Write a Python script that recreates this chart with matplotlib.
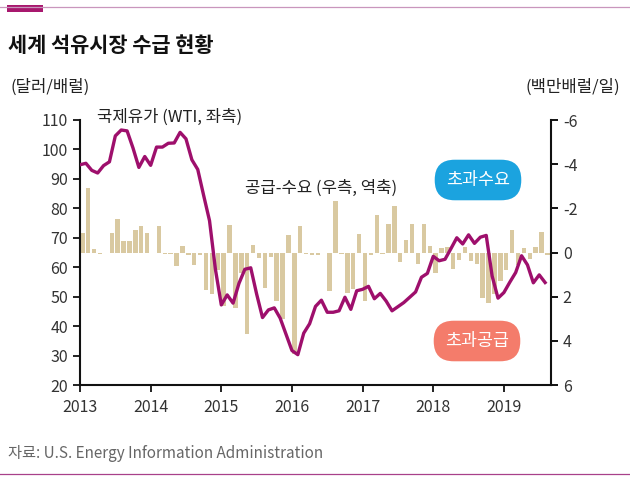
import numpy as np
import matplotlib.pyplot as plt
from matplotlib.lines import Line2D
from matplotlib.patches import Rectangle

plt.rcParams['font.family'] = ['Noto Sans CJK KR', 'DejaVu Sans']
plt.rcParams['axes.unicode_minus'] = False

# WTI monthly average, Jan 2013 - Aug 2019 (USD/bbl)
wti = [94.8, 95.3, 92.9, 92.0, 94.5, 95.8, 104.6, 106.6, 106.3, 100.5, 93.9, 97.6,
       94.6, 100.8, 100.8, 102.1, 102.2, 105.8, 103.6, 96.5, 93.2, 84.4, 75.8, 59.3,
       47.2, 50.6, 47.8, 54.5, 59.3, 59.8, 50.9, 42.9, 45.5, 46.2, 42.7, 37.2,
       31.7, 30.3, 37.6, 40.8, 46.7, 48.8, 44.7, 44.7, 45.2, 49.8, 45.7, 52.0,
       52.5, 53.5, 49.3, 51.1, 48.5, 45.2, 46.6, 48.0, 49.8, 51.6, 56.6, 57.9,
       63.7, 62.2, 62.7, 66.3, 70.0, 67.9, 71.0, 68.1, 70.2, 70.8, 57.0, 49.5,
       51.4, 54.9, 58.2, 63.9, 60.8, 54.7, 57.4, 54.8]

# supply - demand (mb/d), reversed right axis
balance = [-0.9, -2.9, -0.15, 0.05, 0.0, -0.9, -1.5, -0.5, -0.5, -1.0, -1.2, -0.9,
           0.0, -1.2, 0.05, 0.05, 0.6, -0.3, 0.1, 0.55, 0.1, 1.7, 1.9, 0.8,
           2.4, -1.25, 2.5, 0.95, 3.7, -0.35, 0.25, 1.6, 0.2, 2.2, 3.0, -0.8,
           4.6, -1.2, 0.05, 0.1, 0.1, 0.0, 1.75, -2.35, 0.05, 1.85, 1.65, -0.85,
           2.2, 0.1, -1.7, 0.05, -1.3, -2.1, 0.45, -0.55, -1.3, 0.5, -1.3, -0.3,
           0.95, -0.2, -0.25, 0.75, 0.35, -0.25, 0.4, 0.5, 2.05, 2.3, 1.9, 1.3,
           0.8, -1.0, 0.55, -0.2, 0.3, -0.25, -0.95, 0.1]

years = [2013, 2014, 2015, 2016, 2017, 2018, 2019]
left_ticks = [20, 30, 40, 50, 60, 70, 80, 90, 100, 110]
right_ticks = [-6, -4, -2, 0, 2, 4, 6]

W, H = 630, 491
fig = plt.figure(figsize=(W / 100, H / 100), dpi=100)
ax = fig.add_axes([80 / W, 1 - 385 / H, (551 - 80) / W, (385 - 120) / H])
ax2 = ax.twinx()

x_line = 2013 + np.arange(len(wti)) / 12
x_bar = 2013 + (np.arange(len(balance)) + 0.4) / 12

ax2.bar(x_bar, balance, width=0.75 / 12, color='#d9c9a1', zorder=1)
ax.plot(x_line, wti, color='#9e0f6c', lw=2.4, zorder=3, solid_joinstyle='round')

ax.set_zorder(ax2.get_zorder() + 1)
ax.patch.set_visible(False)

ax.set_xlim(2013, 2013 + 80 / 12)
ax.set_ylim(20, 110)
ax2.set_ylim(6, -6)
ax.set_yticks(left_ticks)
ax2.set_yticks(right_ticks)
ax.set_xticks(years)
ax.set_xticklabels([str(y) for y in years])

for a in (ax, ax2):
    a.spines['top'].set_visible(False)
    for s in ('left', 'right', 'bottom'):
        a.spines[s].set_linewidth(1.5)
        a.spines[s].set_color('#111111')
ax.spines['right'].set_visible(False)
ax2.spines['left'].set_visible(False)
ax2.spines['bottom'].set_visible(False)

ax.tick_params(axis='both', length=5, width=1.3, labelsize=11.5, colors='#111111',
               labelcolor='#333333')
ax.tick_params(axis='x', pad=5)
ax2.tick_params(axis='y', length=5, width=1.3, labelsize=11.5, labelcolor='#333333')

# annotations inside the plot
fig.text(97 / W, 1 - 117 / H, '국제유가 (WTI, 좌측)', fontsize=12, color='#222222', va='center')
fig.text(245 / W, 1 - 188 / H, '공급-수요 (우측, 역축)', fontsize=12, color='#222222', va='center')

badge = dict(boxstyle='round,pad=0.65,rounding_size=1.15', ec='none')
fig.text(478 / W, 1 - 180 / H, '초과수요', fontsize=12.5, color='white', ha='center', va='center',
         bbox=dict(badge, fc='#1ba3df'))
fig.text(477 / W, 1 - 341 / H, '초과공급', fontsize=12.5, color='white', ha='center', va='center',
         bbox=dict(badge, fc='#f47c6b'))

# titles and units
fig.text(8 / W, 1 - 45 / H, '세계 석유시장 수급 현황', fontsize=15, fontweight='bold',
         color='#111111', va='center')
fig.text(10 / W, 1 - 87 / H, '(달러/배럴)', fontsize=12, color='#222222', va='center')
fig.text(620 / W, 1 - 87 / H, '(백만배럴/일)', fontsize=12, color='#222222', va='center', ha='right')
fig.text(8 / W, 1 - 453 / H, '자료: U.S. Energy Information Administration', fontsize=11,
         color='#666666', va='center')

# decorative rules
fig.add_artist(Line2D([0, 1], [1 - 7 / H, 1 - 7 / H], color='#c996bd', lw=0.9))
fig.add_artist(Rectangle((7 / W, 1 - 12 / H), 36 / W, 7 / H, color='#a8186e', lw=0))
fig.add_artist(Line2D([0, 1], [1 - 474 / H, 1 - 474 / H], color='#a8408a', lw=0.9))

fig.savefig('out.png', dpi=100)
